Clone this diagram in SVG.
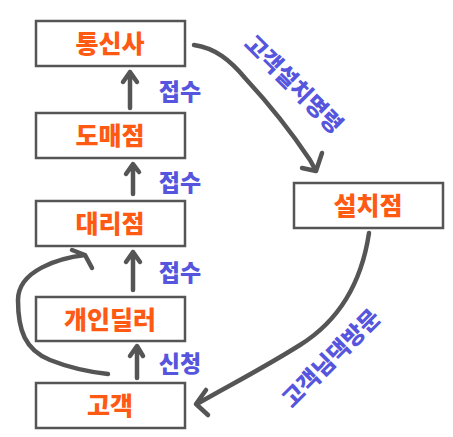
<svg xmlns="http://www.w3.org/2000/svg" width="453" height="437" viewBox="0 0 453 437">
<style>
.box{fill:#fff;stroke:#555;stroke-width:2.5}
.nt{font-family:"Noto Sans CJK KR","Noto Sans",sans-serif;font-weight:900;font-size:25px;fill:#ff5a14;text-anchor:middle}
.lb{font-family:"Noto Sans CJK KR","Noto Sans",sans-serif;font-weight:900;font-size:23px;fill:#5555dd;text-anchor:middle}
.rl{font-size:23px}
.ar{fill:none;stroke:#555;stroke-width:4.5;stroke-linecap:round;stroke-linejoin:round}
</style>
<rect width="453" height="437" fill="#fff"/>
<g id="n1"><rect class="box" x="36" y="21" width="149" height="45"/><text class="nt" x="110" y="53">통신사</text></g>
<g id="n2"><rect class="box" x="36" y="113" width="149" height="45"/><text class="nt" x="110" y="145">도매점</text></g>
<g id="n3"><rect class="box" x="36" y="201" width="149" height="45"/><text class="nt" x="110" y="233">대리점</text></g>
<g id="n4"><rect class="box" x="36" y="297" width="149" height="44"/><text class="nt" x="110" y="329">개인딜러</text></g>
<g id="n5"><rect class="box" x="36" y="383" width="149" height="45"/><text class="nt" x="110" y="415">고객</text></g>
<g id="n6"><rect class="box" x="294" y="183" width="149" height="45"/><text class="nt" x="368" y="215">설치점</text></g>
<g id="connectors">
<path class="ar" d="M130 108 L130 72 M123 82 L130 72 L137 82"/>
<path class="ar" d="M133 194 L133 165 M126 174 L133 164 L139 172"/>
<path class="ar" d="M133 290 L133 252 M126 262 L133 252 L140 262"/>
<path class="ar" d="M137 378 L137 347 M130 356 L137 346 L143 356"/>
<path class="ar" d="M108 374 C90 372 70 368 50 360 C25 350 18 330 18 300 C18 270 60 258 85 255 M72 250 L85 255 L92 268"/>
<path class="ar" d="M194 45 C215 48 230 60 245 78 C270 105 290 130 310 160 L316 171 M302 168 L316 171 L322 153"/>
<path class="ar" d="M369 233 C362 280 340 320 300 345 C260 370 230 385 197 404 M208 415 L196 404 L206 390"/>
<text class="lb rl" transform="translate(288 90) rotate(45)">고객설치명령</text>
<text class="lb rl" transform="translate(337 364) rotate(-45)">고객님댁방문</text>
<text class="lb" x="180" y="100">접수</text>
<text class="lb" x="180" y="191">접수</text>
<text class="lb" x="180" y="281">접수</text>
<text class="lb" x="180" y="372">신청</text>
</g>
</svg>
